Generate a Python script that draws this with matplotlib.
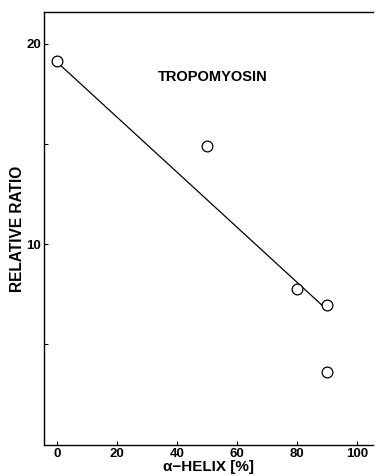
import matplotlib
matplotlib.use("Agg")
import matplotlib.pyplot as plt

# data
helix = [0, 50, 80, 90, 90]
ratio = [19.15, 14.9, 7.75, 6.95, 3.6]
fit_x = [0, 89]
fit_y = [19.1, 6.85]
xticks = [0, 20, 40, 60, 80, 100]
yticks = [5, 10, 15, 20]
ytick_labels = ["", "10", "", "20"]

plt.rcParams['font.family'] = ['Liberation Sans', 'DejaVu Sans']

fig = plt.figure(figsize=(3.77, 4.76), dpi=100)
ax = fig.add_axes([0.1167, 0.0651, 0.8723, 0.9097])

ax.plot(fit_x, fit_y, color='black', lw=0.9)
ax.scatter(helix, ratio, s=60, facecolors='white', edgecolors='black', linewidths=0.9, zorder=3)

ax.set_xlim(-4.3, 105.3)
ax.set_ylim(-0.05, 21.6)
ax.set_xticks(xticks)
ax.set_xticklabels([str(t) for t in xticks], fontsize=9.5, fontweight='bold')
ax.set_yticks(yticks)
ax.set_yticklabels(ytick_labels, fontsize=9.5, fontweight='bold')
ax.tick_params(direction='in', length=3, width=0.8)
ax.tick_params(axis='y', pad=2)
ax.tick_params(axis='x', pad=2)

ax.spines['right'].set_visible(False)
for s in ['left', 'top', 'bottom']:
    ax.spines[s].set_linewidth(1.0)

ax.set_ylabel("RELATIVE RATIO", fontsize=11.2, fontweight='bold', labelpad=1)
ax.set_xlabel("α−HELIX [%]", fontsize=11, fontweight='bold')
ax.xaxis.set_label_coords(0.5, -0.035)
ax.xaxis.label.set_va('top')

ax.text(52, 18.35, "TROPOMYOSIN", fontsize=10.5, fontweight='bold', ha='center', va='center')

fig.savefig("out.png", dpi=100)
